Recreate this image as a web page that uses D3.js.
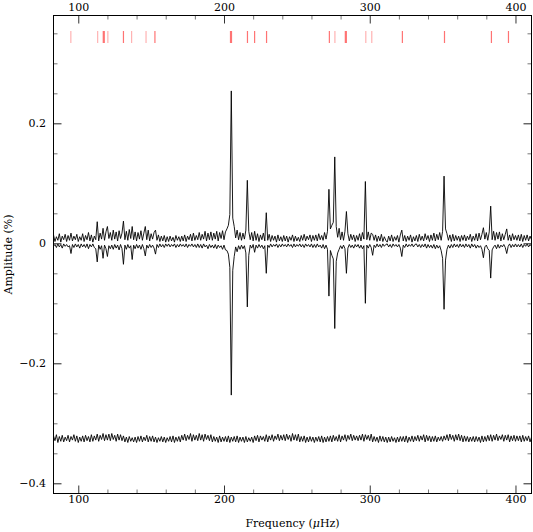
<!DOCTYPE html>
<html><head><meta charset="utf-8">
<script src="https://cdn.jsdelivr.net/npm/d3@7/dist/d3.min.js"></script>
<style>
body{margin:0;background:#fff}
svg{display:block}
text{font-family:"DejaVu Serif",serif;font-size:11px;fill:#000}
</style>
</head><body>
<svg id="c" width="533" height="532"></svg>
<script>
// Sampling grid of the spectra: 1 µHz steps starting at 82 µHz
const gridStart = 82;
// Observed amplitude spectrum, units of 0.001 %
const observed = [
 4,14,3,11,5,16,2,12,6,15,
 3,13,5,17,4,12,6,15,3,11,
 5,16,3,13,6,18,4,14,2,12,
 6,36,4,17,7,25,5,19,28,8,
 18,5,22,7,19,4,21,8,17,37,
 6,20,5,23,8,28,6,19,4,18,
 7,21,5,17,28,6,22,4,16,7,
 18,22,5,14,3,12,4,13,2,11,
 3,12,4,10,2,13,5,11,3,12,
 4,14,3,12,6,15,4,17,5,13,
 6,18,5,15,7,20,4,17,6,19,
 5,17,7,20,4,18,8,21,6,19,
 24,30,48,254,42,28,9,22,6,18,
 5,17,7,22,105,20,6,18,4,20,
 5,16,3,14,6,17,4,51,5,15,
 3,13,5,12,2,14,4,11,3,13,
 4,12,2,11,5,14,3,12,4,10,
 3,13,5,15,4,12,6,14,3,13,
 5,14,4,16,6,13,5,18,7,20,
 90,24,30,35,144,28,10,25,6,19,
 5,20,53,16,4,15,6,14,3,13,
 5,16,4,18,7,103,6,19,5,17,
 15,5,14,3,12,4,15,3,11,5,
 2,12,4,14,3,11,5,13,2,14,
 22,4,13,3,12,5,14,2,11,4,
 13,3,15,5,12,4,16,6,13,3,
 14,5,17,4,15,6,18,5,20,112,
 24,16,5,14,3,15,4,13,5,12,
 3,13,5,14,4,12,6,15,3,12,
 5,16,4,17,6,15,26,7,18,5,
 19,62,6,20,5,18,7,19,4,16,
 6,15,24,5,14,4,16,6,13,5,
 14,4,15,3,13,5,14,4,12,6
];
// Model spectrum, plotted mirrored (negative), units of 0.001 %
const model = [
 -1,-5,-2,-7,-1,-6,-2,-8,-1,-5,
 -2,-6,-4,-17,-2,-7,-1,-6,-2,-8,
 -1,-6,-2,-7,-1,-9,-2,-6,-1,-7,
 -9,-31,-3,-10,-4,-25,-3,-9,-22,-4,
 -9,-3,-10,-2,-8,-3,-11,-2,-9,-35,
 -3,-10,-2,-8,-4,-27,-3,-9,-2,-8,
 -3,-10,-2,-9,-21,-3,-8,-2,-7,-3,
 -8,-18,-2,-7,-1,-6,-2,-7,-1,-5,
 -1,-6,-2,-5,-1,-7,-2,-6,-1,-5,
 -2,-6,-1,-7,-2,-5,-1,-6,-2,-7,
 -1,-7,-2,-8,-1,-6,-3,-9,-2,-7,
 -3,-8,-2,-9,-3,-7,-4,-10,-3,-11,
 -12,-18,-40,-253,-45,-22,-6,-14,-4,-10,
 -3,-9,-4,-16,-106,-20,-3,-8,-2,-15,
 -3,-8,-2,-7,-3,-9,-4,-50,-3,-7,
 -1,-6,-2,-5,-1,-7,-2,-6,-1,-5,
 -2,-6,-1,-5,-2,-7,-1,-6,-2,-5,
 -1,-6,-2,-7,-1,-5,-2,-6,-1,-7,
 -2,-7,-1,-6,-3,-8,-2,-9,-3,-10,
 -88,-12,-20,-26,-142,-30,-16,-10,-4,-9,
 -3,-9,-50,-8,-2,-7,-3,-8,-2,-6,
 -2,-8,-3,-9,-4,-100,-3,-8,-2,-7,
 -20,-3,-7,-1,-6,-2,-7,-1,-5,-2,
 -1,-6,-2,-7,-1,-5,-2,-6,-2,-8,
 -22,-3,-7,-1,-6,-2,-5,-1,-6,-2,
 -1,-6,-2,-7,-2,-6,-1,-8,-2,-7,
 -3,-8,-2,-9,-3,-8,-4,-12,-25,-110,
 -28,-10,-3,-8,-2,-7,-1,-6,-2,-7,
 -1,-6,-2,-7,-1,-6,-2,-8,-1,-6,
 -2,-8,-3,-7,-4,-10,-24,-6,-3,-9,
 -12,-58,-11,-6,-3,-9,-2,-8,-3,-6,
 -2,-7,-17,-5,-1,-7,-2,-6,-1,-6,
 -2,-6,-1,-7,-2,-5,-1,-6,-2,-5
];
// Residual spectrum (observed - model), units of 0.001 %, shown with an offset
const residual = [
 2,12,4,14,1,11,3,13,2,10,
 4,13,2,11,5,14,3,12,1,10,
 3,12,2,13,4,11,2,14,3,12,
 5,15,3,13,6,16,4,14,5,15,
 4,16,6,13,3,15,5,14,4,12,
 2,10,1,11,3,9,2,10,1,11,
 3,12,2,10,4,13,2,11,3,12,
 2,10,1,9,3,11,2,10,1,9,
 3,11,2,12,1,10,3,11,2,13,
 5,15,4,13,6,16,3,14,5,13,
 4,16,5,14,3,15,6,13,4,14,
 2,11,3,10,1,12,2,10,3,11,
 2,12,1,10,3,11,2,12,1,10,
 3,10,1,11,2,9,3,10,1,12,
 4,13,2,12,5,11,3,14,2,12,
 5,14,3,12,6,15,4,13,5,14,
 4,15,6,13,3,16,5,14,4,15,
 2,11,3,12,1,10,2,11,3,10,
 1,10,3,11,2,12,1,10,2,11,
 3,12,2,13,4,11,3,14,2,12,
 5,14,3,13,6,15,4,13,5,12,
 4,13,5,15,3,14,6,13,4,15,
 2,11,3,10,1,12,3,11,2,10,
 1,10,2,11,3,9,1,10,2,11,
 3,11,2,12,1,10,3,12,2,11,
 4,13,3,12,5,14,2,13,4,12,
 2,11,3,12,2,10,4,11,3,12,
 5,14,4,15,6,13,3,14,5,15,
 4,13,2,12,3,11,2,10,3,11,
 2,11,3,10,1,12,2,11,3,13,
 4,14,3,13,5,15,4,12,6,14,
 3,13,5,14,2,12,4,13,3,12,
 4,12,2,13,3,11,4,12,2,10
];
const residualOffset = -0.333;
// Identified mode frequencies (µHz); strong = securely identified, count = components
const modeFreqs  = [94.9,113.3,117.5,120.3,131.0,136.6,146.5,152.6,204.8,216.1,221.0,229.2,272.3,276.1,283.6,297.3,301.4,322.4,351.3,383.5,395.2];
const modeStrong = [0,0,1,0,1,0,0,1,1,1,1,1,1,0,1,0,0,1,1,1,1];
const modeCount  = [1,1,2,1,1,1,1,1,2,1,1,1,1,1,2,1,1,1,1,1,1];
// Axis ticks
const xMajor = [100,200,300,400];
const xMinor = [120,140,160,180,220,240,260,280,320,340,360,380];
const yMajor = [-0.4,-0.2,0,0.2];
const yMajorLabels = ["\u22120.4","\u22120.2","0","0.2"];
const yMinor = [-0.35,-0.3,-0.25,-0.15,-0.1,-0.05,0.05,0.1,0.15,0.25,0.3,0.35];

const svg = d3.select("#c");
const L = 53.5, R = 531.5, T = 15.5, B = 493.5;
const x = d3.scaleLinear().domain([83, 411]).range([L, R]);
const y = d3.scaleLinear().domain([-0.417, 0.3797]).range([B, T]);

svg.append("defs").append("clipPath").attr("id","clip")
  .append("rect").attr("x",L).attr("y",T).attr("width",R-L).attr("height",B-T);

const plot = svg.append("g").attr("clip-path","url(#clip)");
const freqOf = i => gridStart + i;
const line = (offset) => d3.line()
  .x((d,i) => x(freqOf(i)))
  .y(d => y(offset + d/1000));

[ [observed,0], [model,0], [residual,residualOffset] ].forEach(([arr,off]) => {
  plot.append("path").datum(arr)
    .attr("d", line(off))
    .attr("fill","none").attr("stroke","#000").attr("stroke-width",0.9)
    .attr("stroke-linejoin","round");
});

// mode markers
plot.selectAll("line.mode").data(modeFreqs).join("line")
  .attr("class","mode")
  .attr("x1", d => x(d)).attr("x2", d => x(d))
  .attr("y1", y(0.354)).attr("y2", y(0.334))
  .attr("stroke","#ff0000")
  .attr("stroke-opacity", (d,i) => modeStrong[i] ? 0.55 : 0.3)
  .attr("stroke-width", (d,i) => modeCount[i] > 1 ? 2.2 : 1.2);

// axes (ticks pointing inward)
function styleAxis(g, color){
  g.select(".domain").remove();
  g.selectAll(".tick line").attr("stroke", color).attr("stroke-width",1);
  g.selectAll("text").attr("font-family","DejaVu Serif, serif").attr("font-size",11).attr("fill","#000");
}
svg.append("g").attr("transform",`translate(0,${B})`)
  .call(d3.axisBottom(x).tickValues(xMajor).tickSize(-8).tickPadding(2).tickFormat(d3.format("d")))
  .call(g=>styleAxis(g,"#333"));
svg.append("g").attr("transform",`translate(0,${B})`)
  .call(d3.axisBottom(x).tickValues(xMinor).tickSize(-4).tickFormat(""))
  .call(g=>styleAxis(g,"#777"));
svg.append("g").attr("transform",`translate(0,${T})`)
  .call(d3.axisTop(x).tickValues(xMajor).tickSize(-8).tickPadding(5).tickFormat(d3.format("d")))
  .call(g=>styleAxis(g,"#333"));
svg.append("g").attr("transform",`translate(0,${T})`)
  .call(d3.axisTop(x).tickValues(xMinor).tickSize(-4).tickFormat(""))
  .call(g=>styleAxis(g,"#777"));
svg.append("g").attr("transform",`translate(${L},0)`)
  .call(d3.axisLeft(y).tickValues(yMajor).tickSize(-8).tickPadding(7.5).tickFormat((d,i)=>yMajorLabels[i]))
  .call(g=>styleAxis(g,"#222"));
svg.append("g").attr("transform",`translate(${L},0)`)
  .call(d3.axisLeft(y).tickValues(yMinor).tickSize(-4).tickFormat(""))
  .call(g=>styleAxis(g,"#777"));
svg.append("g").attr("transform",`translate(${R},0)`)
  .call(d3.axisRight(y).tickValues(yMajor).tickSize(-8).tickFormat(""))
  .call(g=>styleAxis(g,"#222"));
svg.append("g").attr("transform",`translate(${R},0)`)
  .call(d3.axisRight(y).tickValues(yMinor).tickSize(-4).tickFormat(""))
  .call(g=>styleAxis(g,"#777"));

// frame
svg.append("rect").attr("x",L).attr("y",T).attr("width",R-L).attr("height",B-T)
  .attr("fill","none").attr("stroke","#000").attr("stroke-width",1);

// axis titles
const xt = svg.append("text").attr("x",(L+R)/2).attr("y",527).attr("text-anchor","middle");
xt.append("tspan").text("Frequency (");
xt.append("tspan").attr("font-style","italic").text("\u03bc");
xt.append("tspan").text("Hz)");
svg.append("text").attr("transform",`translate(12,${(T+B)/2}) rotate(-90)`)
  .attr("text-anchor","middle").text("Amplitude (%)");
</script>
</body></html>
